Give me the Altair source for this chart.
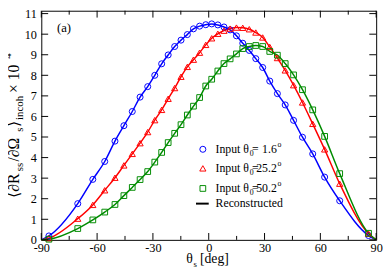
import altair as alt
import pandas as pd

# ---------------- data ----------------
theta_s = [-85.9, -70.4, -62.3, -55.9, -50.4, -45.6, -41.1, -36.9, -32.8, -29.0,
           -25.3, -21.8, -18.3, -14.9, -11.5, -8.2, -4.9, -1.6, 1.6, 4.9,
           8.2, 11.5, 14.9, 18.3, 21.8, 25.3, 29.0, 32.8, 36.9, 41.1,
           45.6, 50.4, 55.9, 62.3, 70.4, 85.9]
blue_in = [0.19, 1.76, 2.94, 3.81, 4.80, 5.55, 6.24, 6.94, 7.45, 8.00,
           8.56, 8.99, 9.40, 9.71, 9.98, 10.26, 10.39, 10.46, 10.50, 10.45,
           10.35, 10.21, 9.92, 9.56, 9.21, 8.81, 8.38, 7.72, 7.11, 6.56,
           5.81, 4.99, 4.18, 3.05, 1.90, 0.21]
red_in = [0.08, 1.03, 1.70, 2.41, 3.02, 3.62, 4.18, 4.70, 5.24, 5.82,
          6.32, 6.86, 7.38, 7.93, 8.41, 8.76, 9.10, 9.48, 9.80, 10.02,
          10.17, 10.27, 10.32, 10.31, 10.24, 10.08, 9.84, 9.38, 8.84, 8.24,
          7.52, 6.68, 5.64, 4.40, 2.73, 0.30]
green_in = [0.03, 0.55, 0.97, 1.35, 1.72, 2.15, 2.55, 2.93, 3.32, 3.78,
            4.25, 4.73, 5.18, 5.60, 6.07, 6.50, 6.92, 7.48, 7.81, 8.21,
            8.57, 8.80, 9.04, 9.30, 9.40, 9.45, 9.40, 9.16, 8.98, 8.57,
            8.02, 7.30, 6.32, 5.03, 3.22, 0.32]
line_ends_theta = [-90, 90]
line_ends_val = [0.0, 0.0]

series_names = ["s1.6", "s25.2", "s50.2"]
legend_values = ["1.6", "25.2", "50.2"]
colors = ["#0000ff", "#ff0000", "#008b00"]
shapes = ["circle", "triangle-up", "square"]
sizes = [38, 40, 34]

x_major = [-90, -60, -30, 0, 30, 60, 90]
x_minor = [-75, -45, -15, 15, 45, 75]
y_major = list(range(0, 12))

# ---------------- layout ----------------
W, H = 342, 234
YMAX = 11.14
FONT = "Liberation Serif"
OX, OY = 42, 8  # page position of plot origin

rows, lrows = [], []
for name, vals in zip(series_names, [blue_in, red_in, green_in]):
    for t, v in zip(theta_s, vals):
        rows.append({"theta": t, "val": v, "series": name})
        lrows.append({"theta": t, "val": v, "series": name})
    for t, v in zip(line_ends_theta, line_ends_val):
        lrows.append({"theta": t, "val": v, "series": name})
pts = pd.DataFrame(rows)
lines = pd.DataFrame(lrows)

xscale = alt.Scale(domain=[-90, 90], nice=False, zero=False)
yscale = alt.Scale(domain=[0, YMAX], nice=False, zero=False)
xaxis = alt.Axis(values=x_major, labelExpr="'' + datum.value", ticks=False, tickSize=0,
                 domain=False, grid=False, labelFont=FONT, labelFontSize=12.5,
                 labelColor="black", labelPadding=2, labelFlush=False,
                 labelOverlap=False, title=None)
yaxis = alt.Axis(values=y_major, labelExpr="'' + datum.value", ticks=False, tickSize=0,
                 domain=False, grid=False, labelFont=FONT, labelFontSize=12.5,
                 labelColor="black", labelPadding=5, labelFlush=False,
                 labelOverlap=False, title=None)
X = alt.X("theta:Q", scale=xscale, axis=xaxis)
Y = alt.Y("val:Q", scale=yscale, axis=yaxis)
cscale = alt.Scale(domain=series_names, range=colors)

line_layer = alt.Chart(lines).mark_line(interpolate="monotone", strokeWidth=1.5).encode(
    x=X, y=Y, color=alt.Color("series:N", scale=cscale, legend=None), detail="series:N")

point_layers = []
for name, col, shp, sz in zip(series_names, colors, shapes, sizes):
    point_layers.append(
        alt.Chart(pts[pts.series == name]).mark_point(
            shape=shp, filled=False, color=col, size=sz, strokeWidth=1, opacity=1
        ).encode(x=X, y=Y)
    )

# ticks (inward, xmgrace style)
dfx_major = pd.DataFrame({"theta": x_major})
dfx_minor = pd.DataFrame({"theta": x_minor})
dfy = pd.DataFrame({"val": y_major})
TL, TS = 7, 4
tick_layers = [
    alt.Chart(dfx_major).mark_rule(color="black", strokeWidth=1).encode(x=X, y=alt.value(H), y2=alt.value(H - TL)),
    alt.Chart(dfx_major).mark_rule(color="black", strokeWidth=1).encode(x=X, y=alt.value(0), y2=alt.value(TL)),
    alt.Chart(dfx_minor).mark_rule(color="black", strokeWidth=1).encode(x=X, y=alt.value(H), y2=alt.value(H - TS)),
    alt.Chart(dfx_minor).mark_rule(color="black", strokeWidth=1).encode(x=X, y=alt.value(0), y2=alt.value(TS)),
    alt.Chart(dfy).mark_rule(color="black", strokeWidth=1).encode(y=Y, x=alt.value(0), x2=alt.value(TL)),
    alt.Chart(dfy).mark_rule(color="black", strokeWidth=1).encode(y=Y, x=alt.value(W), x2=alt.value(W - TL)),
]


def txt(s, px, py, size=13, align="left", baseline="alphabetic", angle=0):
    return alt.Chart(pd.DataFrame({"t": [s]})).mark_text(
        text=s, font=FONT, fontSize=size, align=align, baseline=baseline,
        angle=angle, color="black"
    ).encode(x=alt.value(px - OX), y=alt.value(py - OY))


texts = []
# panel label
texts.append(txt("(a)", 58, 29.5, 13))
# x title
texts.append(txt("θ", 190, 266, 14))
texts.append(txt("s", 197.5, 269.5, 9))
texts.append(txt("[deg]", 204, 266, 14))
# y title (rotated pieces, reading bottom to top)
MX, SX, UX = 19, 23, 11
texts.append(txt("⟨∂R", MX, 199, 16, angle=270))
texts.append(txt("ss", SX, 172, 11, angle=270))
texts.append(txt(" /∂Ω", MX, 162, 16, angle=270))
texts.append(txt("s", SX, 131.5, 11, angle=270))
texts.append(txt("⟩", MX, 126.5, 16, angle=270))
texts.append(txt("incoh", SX, 119.5, 11, angle=270))
texts.append(txt(" × 10", MX, 92, 16, angle=270))
texts.append(txt("4", UX, 57, 11, angle=270))

# legend
row_y = [150, 169.5, 190]
legend_layers = []
for val, col, shp, sz, ry in zip(legend_values, colors, shapes, sizes, row_y):
    legend_layers.append(
        alt.Chart(pd.DataFrame({"t": [val]})).mark_point(
            shape=shp, filled=False, color=col, size=sz, strokeWidth=1, opacity=1
        ).encode(x=alt.value(207 - OX), y=alt.value(ry - 0.5 - OY))
    )
    texts.append(txt("Input θ", 220, ry + 3, 12))
    texts.append(txt("0", 254.8, ry + 6.5, 8))
    texts.append(txt("=", 257.2, ry + 3, 12))
    texts.append(txt(val, 282.5, ry + 3, 12, align="right"))
    texts.append(txt("o", 283.2, ry - 3, 8))
legend_layers.append(
    alt.Chart(pd.DataFrame({"t": [0]})).mark_rule(color="black", strokeWidth=2).encode(
        x=alt.value(200 - OX), x2=alt.value(213 - OX), y=alt.value(205 - OY))
)
texts.append(txt("Reconstructed", 220, 208.5, 12))

chart = alt.layer(
    line_layer, *point_layers, *tick_layers, *legend_layers, *texts
).properties(
    width=W, height=H,
    autosize=alt.AutoSizeParams(type="none"),
    padding={"left": OX - 8, "top": OY - 8, "right": 8, "bottom": 28},
    background="white",
).configure_view(stroke="black", strokeWidth=1)

chart.save("out.html", embed_options={"renderer": "svg", "actions": False})
